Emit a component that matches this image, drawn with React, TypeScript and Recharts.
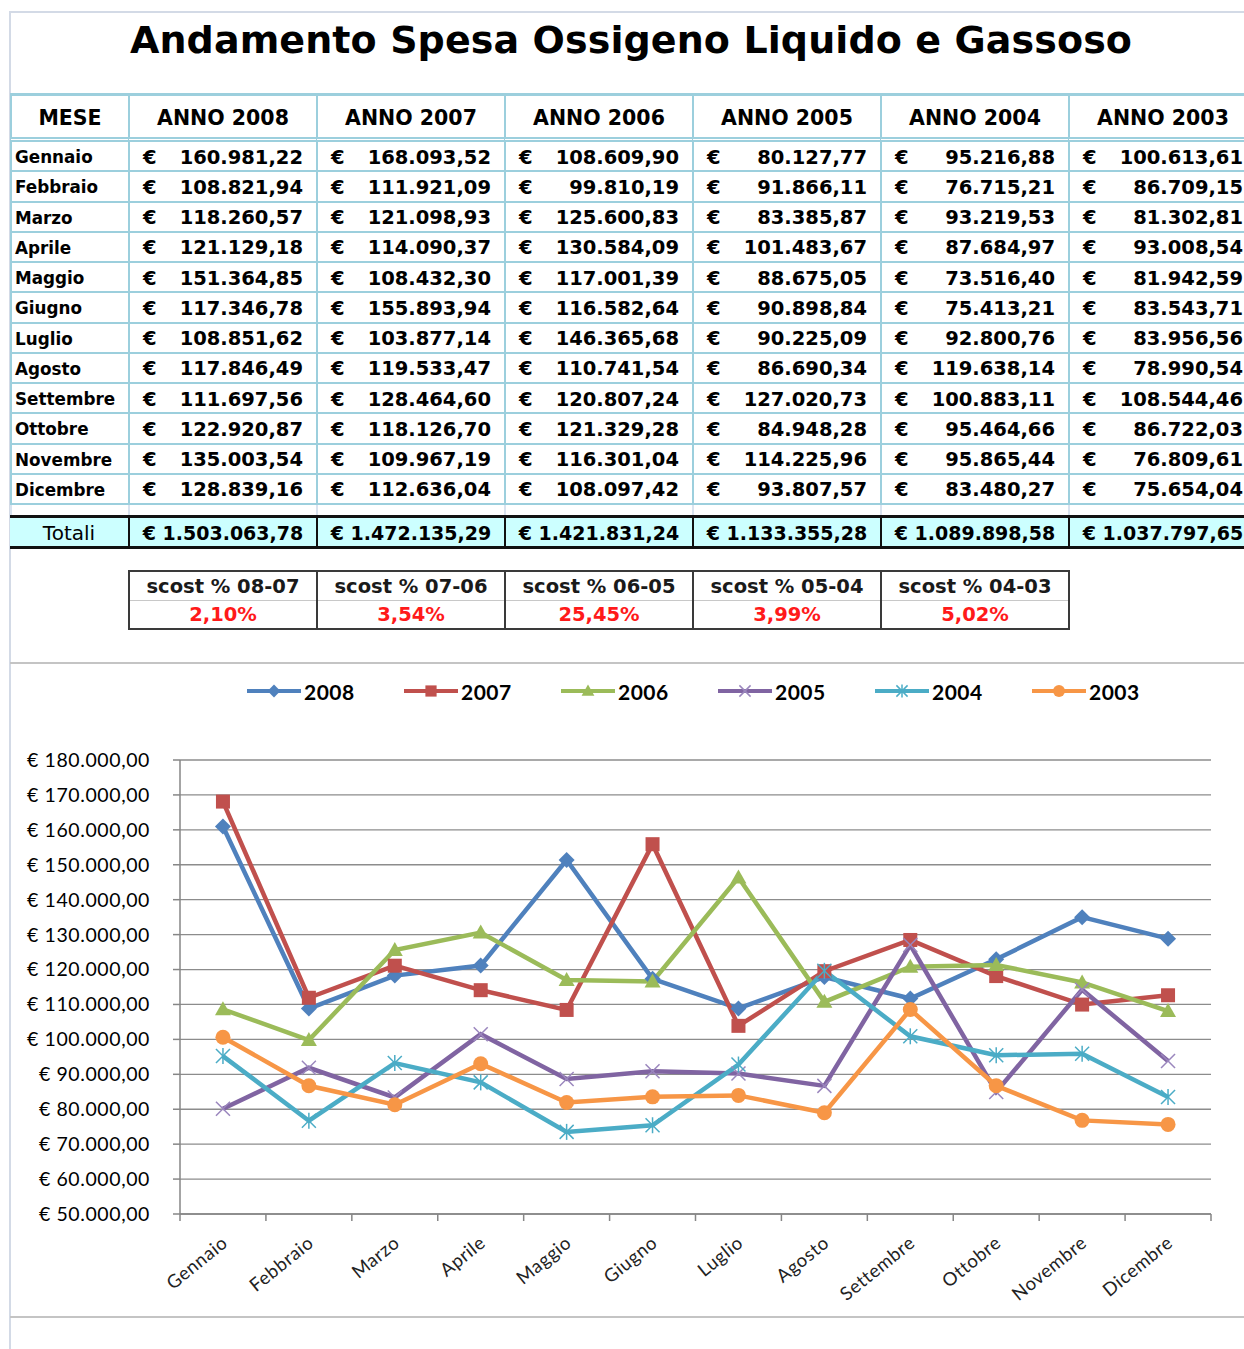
import React from "react";
import { LineChart, Line, XAxis, YAxis, CartesianGrid } from "recharts";

const months = [
  "Gennaio", "Febbraio", "Marzo", "Aprile", "Maggio", "Giugno",
  "Luglio", "Agosto", "Settembre", "Ottobre", "Novembre", "Dicembre",
];

const spesa2008 = [160981.22, 108821.94, 118260.57, 121129.18, 151364.85, 117346.78, 108851.62, 117846.49, 111697.56, 122920.87, 135003.54, 128839.16];
const spesa2007 = [168093.52, 111921.09, 121098.93, 114090.37, 108432.3, 155893.94, 103877.14, 119533.47, 128464.6, 118126.7, 109967.19, 112636.04];
const spesa2006 = [108609.9, 99810.19, 125600.83, 130584.09, 117001.39, 116582.64, 146365.68, 110741.54, 120807.24, 121329.28, 116301.04, 108097.42];
const spesa2005 = [80127.77, 91866.11, 83385.87, 101483.67, 88675.05, 90898.84, 90225.09, 86690.34, 127020.73, 84948.28, 114225.96, 93807.57];
const spesa2004 = [95216.88, 76715.21, 93219.53, 87684.97, 73516.4, 75413.21, 92800.76, 119638.14, 100883.11, 95464.66, 95865.44, 83480.27];
const spesa2003 = [100613.61, 86709.15, 81302.81, 93008.54, 81942.59, 83543.71, 83956.56, 78990.54, 108544.46, 86722.03, 76809.61, 75654.04];

const totali = [1503063.78, 1472135.29, 1421831.24, 1133355.28, 1089898.58, 1037797.65];
const scostLabels = ["08-07", "07-06", "06-05", "05-04", "04-03"];
const scostValues = [2.1, 3.54, 25.45, 3.99, 5.02];

const yTicks = [50000, 60000, 70000, 80000, 90000, 100000, 110000, 120000, 130000, 140000, 150000, 160000, 170000, 180000];

type Shape = "diamond" | "square" | "triangle" | "x" | "star" | "circle";

const series: { key: string; name: string; color: string; shape: Shape; values: number[] }[] = [
  { key: "y2008", name: "2008", color: "#4F81BD", shape: "diamond", values: spesa2008 },
  { key: "y2007", name: "2007", color: "#C0504D", shape: "square", values: spesa2007 },
  { key: "y2006", name: "2006", color: "#9BBB59", shape: "triangle", values: spesa2006 },
  { key: "y2005", name: "2005", color: "#8064A2", shape: "x", values: spesa2005 },
  { key: "y2004", name: "2004", color: "#4BACC6", shape: "star", values: spesa2004 },
  { key: "y2003", name: "2003", color: "#F79646", shape: "circle", values: spesa2003 },
];

const chartData = months.map((m, i) => {
  const row: any = { month: m };
  series.forEach((s) => (row[s.key] = s.values[i]));
  return row;
});

function fmtIt(v: number, dec = 2) {
  const [i, d] = v.toFixed(dec).split(".");
  return i.replace(/\B(?=(\d{3})+(?!\d))/g, ".") + (d ? "," + d : "");
}

const fmtEuro = (v: number) => `€ ${fmtIt(v)}`;

// plot area: 180..1211 wide, 12 categories -> half a category
const CHART_W = 1244;
const PLOT_LEFT = 180;
const PLOT_RIGHT_MARGIN = 33;
const HALF_BAND = (CHART_W - PLOT_LEFT - PLOT_RIGHT_MARGIN) / months.length / 2;

function Marker({ shape, color, cx, cy, s = 1 }: { shape: Shape; color: string; cx: number; cy: number; s?: number }) {
  switch (shape) {
    case "diamond":
      return <polygon points={`${cx},${cy - 8 * s} ${cx + 8 * s},${cy} ${cx},${cy + 8 * s} ${cx - 8 * s},${cy}`} fill={color} />;
    case "square":
      return <rect x={cx - 7 * s} y={cy - 7 * s} width={14 * s} height={14 * s} fill={color} />;
    case "triangle":
      return <polygon points={`${cx},${cy - 8 * s} ${cx + 8 * s},${cy + 6 * s} ${cx - 8 * s},${cy + 6 * s}`} fill={color} />;
    case "x":
      return (
        <g stroke="#9a86bd" strokeWidth={1.5}>
          <line x1={cx - 7 * s} y1={cy - 7 * s} x2={cx + 7 * s} y2={cy + 7 * s} />
          <line x1={cx - 7 * s} y1={cy + 7 * s} x2={cx + 7 * s} y2={cy - 7 * s} />
        </g>
      );
    case "star":
      return (
        <g stroke={color} strokeWidth={1.5}>
          <line x1={cx - 7 * s} y1={cy - 7 * s} x2={cx + 7 * s} y2={cy + 7 * s} />
          <line x1={cx - 7 * s} y1={cy + 7 * s} x2={cx + 7 * s} y2={cy - 7 * s} />
          <line x1={cx} y1={cy - 8 * s} x2={cx} y2={cy + 8 * s} />
        </g>
      );
    default:
      return <circle cx={cx} cy={cy} r={7.5 * s} fill={color} />;
  }
}

const MonthTick = (props: any) => {
  const { x, y, payload, index } = props;
  return (
    <g>
      <line x1={x - HALF_BAND} y1={y} x2={x - HALF_BAND} y2={y + 7} stroke="#868686" strokeWidth={1.5} />
      {index === months.length - 1 && (
        <line x1={x + HALF_BAND} y1={y} x2={x + HALF_BAND} y2={y + 7} stroke="#868686" strokeWidth={1.5} />
      )}
      <text
        transform={`translate(${x + 6},${y + 31}) rotate(-39)`}
        textAnchor="end"
        fontSize={18.5}
        fontFamily="Lato"
        letterSpacing={0.6}
        fill="#222"
      >
        {payload.value}
      </text>
    </g>
  );
};

const BLUE = "#9ccfdd";
const COLS = [10, 128, 316, 504, 692, 880, 1068];
const COLW = [118, 188, 188, 188, 188, 188, 188];
const ROW_TOP = 142;
const ROW_H = 30.25;

const abs = (left: number, top: number, width: number, height: number): React.CSSProperties => ({
  position: "absolute",
  left,
  top,
  width,
  height,
  boxSizing: "border-box",
});

export default function App() {
  const tableCols = [null, ...series];
  return (
    <div
      style={{
        position: "absolute",
        left: 0,
        top: 0,
        width: 1244,
        height: 1349,
        overflow: "hidden",
        background: "#fff",
        fontFamily: "'DejaVu Sans', sans-serif",
        color: "#000",
      }}
    >
      {/* frame lines */}
      <div style={{ ...abs(9, 12, 2, 1337), background: "#d3dae6" }} />
      <div style={{ ...abs(9, 11, 1235, 2), background: "#d3dae6" }} />

      {/* title */}
      <div
        style={{
          ...abs(8, 12, 1246, 56),
          lineHeight: "56px",
          textAlign: "center",
          fontSize: 38,
          fontWeight: 700,
          letterSpacing: 0.1,
          whiteSpace: "nowrap",
        }}
      >
        Andamento Spesa Ossigeno Liquido e Gassoso
      </div>

      {/* header row */}
      {tableCols.map((s, c) => (
        <div
          key={`h${c}`}
          style={{
            ...abs(COLS[c], 93, COLW[c], 49),
            borderTop: `3px solid ${BLUE}`,
            borderBottom: `5px double ${BLUE}`,
            borderLeft: `2px solid ${BLUE}`,
            display: "flex",
            alignItems: "center",
            justifyContent: "center",
            fontSize: 20.5,
            fontWeight: 700,
            whiteSpace: "nowrap",
            paddingTop: 2,
          }}
        >
          {s ? `ANNO ${s.name}` : "MESE"}
        </div>
      ))}

      {/* data rows */}
      {months.map((m, r) =>
        tableCols.map((s, c) => (
          <div
            key={`r${r}c${c}`}
            style={{
              ...abs(COLS[c], ROW_TOP + r * ROW_H, COLW[c], ROW_H),
              borderBottom: `2px solid ${BLUE}`,
              borderLeft: `2px solid ${BLUE}`,
              display: "flex",
              alignItems: "center",
              justifyContent: s ? "space-between" : "flex-start",
              padding: s ? "2px 13px 0 13px" : "2px 0 0 3px",
              fontSize: s ? 19.5 : 16.8,
              fontWeight: 700,
              whiteSpace: "nowrap",
            }}
          >
            {s ? (
              <>
                <span>€</span>
                <span>{fmtIt(s.values[r])}</span>
              </>
            ) : (
              m
            )}
          </div>
        ))
      )}

      {/* blank row */}
      {tableCols.map((_, c) => (
        <div key={`b${c}`} style={{ ...abs(COLS[c], 505, COLW[c], 12), borderLeft: "2px solid #d9e3ef" }} />
      ))}

      {/* totals row */}
      {tableCols.map((s, c) => (
        <div
          key={`t${c}`}
          style={{
            ...abs(COLS[c], 515, COLW[c], 34),
            background: "#ccffff",
            borderTop: "3px solid #111",
            borderBottom: "3px solid #111",
            borderLeft: c === 0 ? "none" : "2px solid #111",
            display: "flex",
            alignItems: "center",
            justifyContent: "center",
            fontSize: s ? 19 : 20,
            fontWeight: s ? 700 : 400,
            whiteSpace: "nowrap",
            paddingTop: 2,
          }}
        >
          {s ? `€ ${fmtIt(totali[c - 1])}` : "Totali"}
        </div>
      ))}

      {/* scostamenti */}
      {scostLabels.map((lab, i) => (
        <div
          key={`s${i}`}
          style={{
            ...abs(COLS[i + 1], 570, COLW[i + 1] + (i === scostLabels.length - 1 ? 2 : 0), 60),
            borderTop: "2px solid #3a3a3a",
            borderBottom: "2px solid #3a3a3a",
            borderLeft: "2px solid #3a3a3a",
            borderRight: i === scostLabels.length - 1 ? "2px solid #3a3a3a" : "none",
            fontSize: 19.5,
            fontWeight: 700,
            whiteSpace: "nowrap",
            textAlign: "center",
          }}
        >
          <div style={{ height: 28, lineHeight: "30px", borderBottom: "1px solid #c8c8c8", color: "#1a1a1a" }}>
            scost % {lab}
          </div>
          <div style={{ height: 27, lineHeight: "27px", color: "#ff1a1a" }}>{fmtIt(scostValues[i])}%</div>
        </div>
      ))}

      {/* chart area borders */}
      <div style={{ ...abs(10, 662, 1234, 2), background: "#c4c4c4" }} />
      <div style={{ ...abs(10, 1316, 1234, 2), background: "#c4c4c4" }} />

      {/* legend */}
      <div style={{ position: "absolute", left: 247, top: 679, height: 24, display: "flex", alignItems: "center" }}>
        {series.map((s) => (
          <div key={s.key} style={{ width: 157, display: "flex", alignItems: "center" }}>
            <svg width={54} height={20}>
              <line x1={0} y1={10} x2={54} y2={10} stroke={s.color} strokeWidth={4} />
              <Marker shape={s.shape} color={s.color} cx={27} cy={10} s={0.8} />
            </svg>
            <span style={{ fontFamily: "Lato", fontWeight: 700, fontSize: 21, marginLeft: 3, letterSpacing: 0.5 }}>
              {s.name}
            </span>
          </div>
        ))}
      </div>

      {/* chart */}
      <div style={{ position: "absolute", left: 0, top: 663 }}>
        <LineChart
          width={CHART_W}
          height={655}
          data={chartData}
          margin={{ top: 97, right: PLOT_RIGHT_MARGIN, left: 0, bottom: 0 }}
        >
          <CartesianGrid vertical={false} stroke="#8c8c8c" strokeWidth={1.3} />
          <XAxis
            dataKey="month"
            interval={0}
            height={104}
            padding={{ left: HALF_BAND, right: HALF_BAND }}
            tickSize={0}
            tickMargin={0}
            tickLine={false}
            axisLine={{ stroke: "#868686", strokeWidth: 1.5 }}
            tick={<MonthTick />}
          />
          <XAxis
            xAxisId="top"
            dataKey="month"
            orientation="top"
            height={0}
            tick={false}
            tickLine={false}
            axisLine={{ stroke: "#111", strokeWidth: 2 }}
          />
          <YAxis
            domain={[50000, 180000]}
            ticks={yTicks}
            interval={0}
            width={PLOT_LEFT}
            tickSize={7}
            tickMargin={23}
            tickFormatter={fmtEuro}
            axisLine={{ stroke: "#868686", strokeWidth: 1.5 }}
            tickLine={{ stroke: "#868686", strokeWidth: 1.5 }}
            tick={{ fill: "#000", fontSize: 19.5, fontFamily: "Lato", letterSpacing: 0.6 }}
          />
          <YAxis
            yAxisId="right"
            orientation="right"
            width={0}
            tick={false}
            tickLine={false}
            axisLine={{ stroke: "#111", strokeWidth: 2 }}
          />
          {series.map((s) => (
            <Line
              key={s.key}
              type="linear"
              dataKey={s.key}
              name={s.name}
              stroke={s.color}
              strokeWidth={4.5}
              isAnimationActive={false}
              dot={(p: any) =>
                p.cx == null ? <g key={p.index} /> : (
                  <g key={p.index}>
                    <Marker shape={s.shape} color={s.color} cx={p.cx} cy={p.cy} />
                  </g>
                )
              }
              activeDot={false}
            />
          ))}
        </LineChart>
      </div>
    </div>
  );
}
